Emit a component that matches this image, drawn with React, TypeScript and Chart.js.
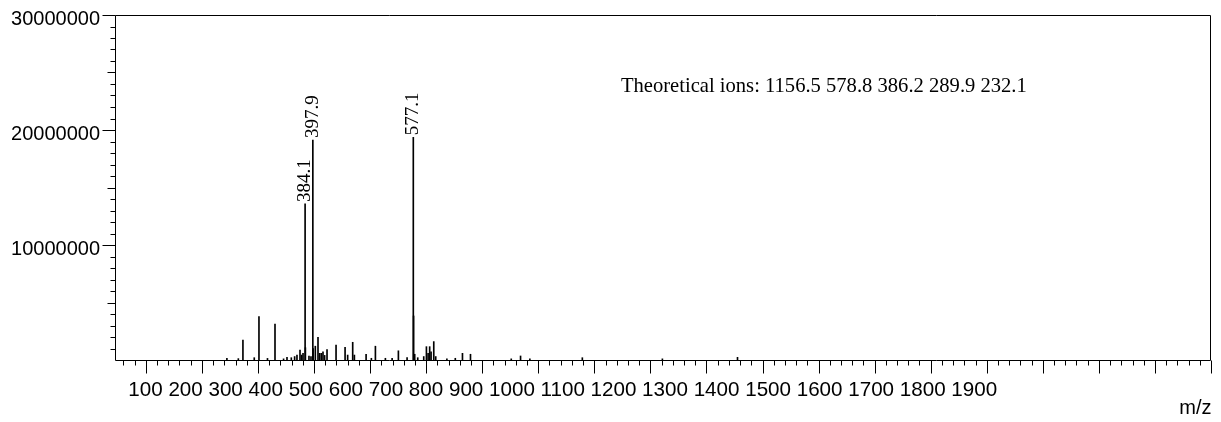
import React, { useEffect, useRef } from "react";
import { Chart, registerables } from "chart.js";

Chart.register(...registerables);

// ---- data ----
const peakMz: number[] = [
  244.6, 265.0, 273.2, 293.4, 301.8, 317.0, 330.4, 345.7, 351.8, 359.5,
  365.4, 369.6, 375.0, 377.9, 380.4, 384.1, 384.6, 391.0, 394.6, 397.9,
  398.4, 402.3, 407.1, 410.0, 413.0, 416.0, 418.9, 423.2, 439.3, 455.4,
  460.0, 469.0, 472.0, 492.9, 502.3, 509.5, 527.3, 539.3, 550.5, 566.0,
  577.1, 577.6, 579.6, 585.0, 595.7, 600.5, 603.5, 606.3, 608.8, 613.6,
  617.1, 637.0, 652.0, 664.8, 679.1, 751.8, 768.4, 785.0, 878.6, 1021.4,
  1155.4,
];
const peakIntensity: number[] = [
  150000, 120000, 1740000, 200000, 3770000, 140000, 3130000, 100000, 230000, 200000,
  300000, 430000, 870000, 430000, 580000, 13570000, 1070000, 350000, 300000, 19130000,
  1000000, 1200000, 1970000, 580000, 580000, 720000, 400000, 900000, 1300000, 1100000,
  430000, 1540000, 430000, 500000, 150000, 1200000, 150000, 150000, 800000, 200000,
  19360000, 3830000, 500000, 200000, 300000, 1160000, 580000, 1160000, 720000, 1600000,
  300000, 100000, 150000, 580000, 500000, 100000, 350000, 100000, 200000, 100000,
  230000,
];
const labeledPeaks: string[] = ["384.1", "397.9", "577.1"];
const xTickLabels: string[] = [
  "100", "200", "300", "400", "500", "600", "700", "800", "900", "1000",
  "1100", "1200", "1300", "1400", "1500", "1600", "1700", "1800", "1900",
];
const yTickValues: number[] = [10000000, 20000000, 30000000];
const annotationText = "Theoretical ions: 1156.5 578.8 386.2 289.9 232.1";
const xTitle = "m/z";

const X_MIN = 45;
const X_MAX = 2000;
const Y_MAX = 30000000;

const SANS = "'Liberation Sans', Arial, Helvetica, sans-serif";
const SERIF = "'Liberation Serif', 'Times New Roman', Times, serif";

const decorPlugin = {
  id: "decor",
  afterDraw(chart: any) {
    const ctx: CanvasRenderingContext2D = chart.ctx;
    const { left, right, top, bottom } = chart.chartArea;
    const xs = chart.scales.x;
    const ys = chart.scales.y;
    ctx.save();
    ctx.strokeStyle = "#000";
    ctx.fillStyle = "#000";
    ctx.lineWidth = 1;

    const L = Math.round(left) + 0.5;
    const R = Math.round(right) - 0.5;
    const T = Math.round(top) + 0.5;
    const B = Math.round(bottom) + 0.5;

    // frame
    ctx.beginPath();
    ctx.rect(L, T, R - L, B - T);
    ctx.stroke();

    // x tick marks (every 20, major every 100)
    ctx.beginPath();
    for (let i = 3; i <= 100; i++) {
      const v = i * 20;
      const px = Math.round(xs.getPixelForValue(v)) + 0.5;
      const len = i % 5 === 0 ? 13 : 5;
      ctx.moveTo(px, B);
      ctx.lineTo(px, B + len);
    }
    ctx.stroke();

    // y tick marks (every 1M, mid every 5M, major every 10M)
    ctx.beginPath();
    for (let i = 1; i <= 30; i++) {
      const v = i * 1000000;
      const py = Math.round(ys.getPixelForValue(v)) + 0.5;
      const len = i % 10 === 0 ? 13 : i % 5 === 0 ? 8 : 5;
      ctx.moveTo(L - len, py);
      ctx.lineTo(L, py);
    }
    ctx.stroke();

    // x labels (packed text as in the reference)
    ctx.font = `20.6px ${SANS}`;
    ctx.textAlign = "left";
    ctx.textBaseline = "alphabetic";
    ctx.fillText(xTickLabels.join(" "), left + 13.3, bottom + 36);

    // axis title
    ctx.font = `20px ${SANS}`;
    ctx.textAlign = "right";
    ctx.fillText(xTitle, right + 0.5, bottom + 54);

    // peak labels
    const meta = chart.getDatasetMeta(0);
    ctx.font = `19px ${SERIF}`;
    ctx.textAlign = "left";
    ctx.textBaseline = "middle";
    labeledPeaks.forEach((lab) => {
      const idx = peakMz.indexOf(parseFloat(lab));
      const el = meta.data[idx];
      if (!el) return;
      ctx.save();
      ctx.translate(el.x, el.y - 2);
      ctx.rotate(-Math.PI / 2);
      ctx.fillText(lab, 0, 0);
      ctx.restore();
    });

    // annotation
    ctx.font = `20.6px ${SERIF}`;
    ctx.textAlign = "left";
    ctx.textBaseline = "alphabetic";
    ctx.fillText(annotationText, xs.getPixelForValue(947.4), ys.getPixelForValue(23330000));

    ctx.restore();
  },
};

export default function App() {
  const canvasRef = useRef<HTMLCanvasElement | null>(null);

  useEffect(() => {
    if (!canvasRef.current) return;
    const chart = new Chart(canvasRef.current, {
      type: "bar",
      data: {
        datasets: [
          {
            data: peakMz.map((mz, i) => ({ x: mz, y: peakIntensity[i] })),
            backgroundColor: "#000",
            borderWidth: 0,
            barThickness: 1,
            grouped: false,
          } as any,
        ],
      },
      options: {
        animation: false,
        responsive: true,
        maintainAspectRatio: false,
        devicePixelRatio: 1,
        layout: { padding: { left: 0, top: 15, right: 10, bottom: 0 } },
        plugins: {
          legend: { display: false },
          tooltip: { enabled: false },
        },
        scales: {
          x: {
            type: "linear",
            min: X_MIN,
            max: X_MAX,
            offset: false,
            grid: { display: false, drawTicks: false },
            border: { display: false },
            ticks: { display: false },
            afterFit: (scale: any) => {
              scale.height = 62;
              scale.paddingLeft = 0;
              scale.paddingRight = 0;
            },
          },
          y: {
            type: "linear",
            min: 0,
            max: Y_MAX,
            grid: { display: false, drawTicks: false },
            border: { display: false },
            afterBuildTicks: (scale: any) => {
              scale.ticks = [{ value: 0 }, ...yTickValues.map((v) => ({ value: v }))];
            },
            ticks: {
              autoSkip: false,
              padding: 15,
              labelOffset: 4,
              color: "#000",
              font: { family: SANS, size: 20 },
              callback: (v: any) => (Number(v) === 0 ? "" : String(v)),
            },
            afterFit: (scale: any) => {
              scale.width = 115;
              scale.paddingTop = 0;
              scale.paddingBottom = 0;
            },
          },
        },
      },
      plugins: [decorPlugin],
    });
    return () => chart.destroy();
  }, []);

  return (
    <div style={{ position: "fixed", left: 0, top: 0, width: 1221, height: 422, background: "#fff" }}>
      <canvas ref={canvasRef} />
    </div>
  );
}
